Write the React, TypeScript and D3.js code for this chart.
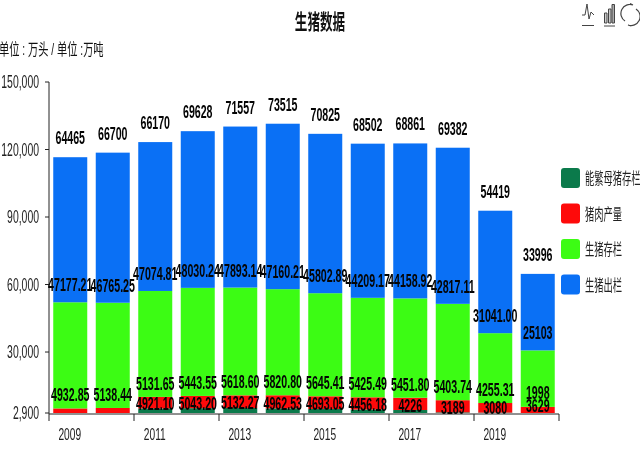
import React from "react";
import * as d3 from "d3";

const years = ["2009","2010","2011","2012","2013","2014","2015","2016","2017","2018","2019","2020"];
const sow = [null,null,4921.10,5043.20,5132.27,4962.53,4693.05,4456.18,4226,3189,3080,1998];
const pork = [4932.85,5138.44,5131.65,5443.55,5618.60,5820.80,5645.41,5425.49,5451.80,5403.74,4255.31,3629];
const stock = [47177.21,46765.25,47074.81,48030.24,47893.14,47160.21,45802.89,44209.17,44158.92,42817.11,31041.00,25103];
const sold = [64465,66700,66170,69628,71557,73515,70825,68502,68861,69382,54419,33996];
const sowText = ["","","4921.10","5043.20","5132.27","4962.53","4693.05","4456.18","4226","3189","3080","1998"];
const porkText = ["4932.85","5138.44","5131.65","5443.55","5618.60","5820.80","5645.41","5425.49","5451.80","5403.74","4255.31","3629"];
const stockText = ["47177.21","46765.25","47074.81","48030.24","47893.14","47160.21","45802.89","44209.17","44158.92","42817.11","31041.00","25103"];
const yTicks = [2900,30000,60000,90000,120000,150000];
const seriesNames = ["能繁母猪存栏","猪肉产量","生猪存栏","生猪出栏"];
const seriesColors = ["#0b7a4b","#fe0a0a","#3cfc14","#0a70f5"];

const font = "'Liberation Sans', Arial, sans-serif";
const W = 640, H = 449;

const T = ({x,y,s,size,sx=0.62,bold=false,anchor="middle",fill="#111"}:any) => (
  <text transform={`translate(${x},${y}) scale(${sx},1)`} fontFamily={`${font}, 'Noto Sans CJK SC'`} fontSize={size}
    fontWeight={bold?700:400} textAnchor={anchor} fill={fill}>{s}</text>
);

export default function App(){
  const step = 510/12;
  const y = d3.scaleLinear().domain([2900,150000]).range([413,82]);
  const rows = years.map((yr,i)=>({year:yr,sow:sow[i]??0,pork:pork[i],stock:stock[i],sold:sold[i]}));
  const stacked = d3.stack<any>().keys(["sow","pork","stock","sold"])(rows);
  const cx = (i:number)=>49+step*(i+0.5);
  const barW = 34;
  const last = years.length-1;
  const labelSets = [
    {texts:sowText,dy:1.5,k:0},
    {texts:porkText,dy:-7,k:1},
    {texts:stockText,dy:-11,k:2},
    {texts:sold.map(String),dy:-13,k:3},
  ];
  // in the final year the two low labels sit stacked above the short red segment
  const labelY = (k:number,i:number,dy:number)=>{
    if(i===last && k===0) return y(stacked[1][i][1])-8;
    if(i===last && k===1) return y(stacked[1][i][1])+5;
    return y(stacked[k][i][1])+dy;
  };
  return (
    <svg width={W} height={H} style={{position:"absolute",left:0,top:0,background:"#fff",filter:"blur(0.35px)"}}>
      <T x={320} y={29} s="生猪数据" size={21} sx={0.6} bold/>
      <T x={-1} y={55} s="单位 : 万头 / 单位 :万吨" size={16} sx={0.64} anchor="start"/>
      {stacked.map((ser,si)=>(
        <g key={si} fill={seriesColors[si]}>
          {ser.map((d,i)=>{
            const y0=y(Math.max(d[0],2900)), y1=y(Math.max(d[1],2900));
            return <rect key={i} x={cx(i)-barW/2} y={y1} width={barW} height={Math.max(0,y0-y1)}/>;
          })}
        </g>
      ))}
      <line x1={49} x2={49} y1={82} y2={414} stroke="#222" strokeWidth={1}/>
      <line x1={49} x2={559} y1={414} y2={414} stroke="#222" strokeWidth={1}/>
      {yTicks.map(t=>(
        <g key={t}>
          <line x1={45} x2={49} y1={y(t)} y2={y(t)} stroke="#222"/>
          <T x={39} y={y(t)+6} s={d3.format(",")(t)} size={18} sx={0.58} anchor="end" fill="#222"/>
        </g>
      ))}
      {years.map((yr,i)=> i%2===0 ? (
        <g key={yr}>
          <line x1={49+step*i} x2={49+step*i} y1={414} y2={421} stroke="#222"/>
          <T x={cx(i)-0.5} y={440} s={yr} size={17} sx={0.6} fill="#222"/>
        </g>
      ):null)}
      <line x1={559} x2={559} y1={414} y2={421} stroke="#222"/>
      {labelSets.map(ls=>ls.texts.map((s,i)=> s ? (
        <T key={ls.k+"-"+i} x={cx(i)} y={labelY(ls.k,i,ls.dy)} s={s} size={19} sx={0.56} bold fill="#050505"/>
      ):null))}
      {seriesNames.map((n,i)=>(
        <g key={n}>
          <rect x={561} y={168+i*35.5} width={19} height={20} rx={3} fill={seriesColors[i]}/>
          <T x={585} y={184+i*35.5} s={n} size={16} sx={0.58} anchor="start" fill="#222"/>
        </g>
      ))}
      <g fill="none" stroke="#444" strokeWidth={1}>
        <path d="M582 15 L585 15 L587 4 L589 19 L591 12 L594 15 M582 25.5 L594 25.5"/>
        <path d="M604 26 L615 26" />
        <path d="M604.5 23 V13 H607 V23 Z M608.5 23 V9 H611 V23 Z" fill="#ccc"/>
        <path d="M612 4.5 h2.5 v18.5 h-2.5 Z" fill="#aaa"/>
        <path d="M625 21 A9 9 0 0 1 633 5 M633 5 l-3 -1.5 M636 9 A9 9 0 0 1 628 25 M628 25 l3 1" strokeWidth={1.2}/>
      </g>
    </svg>
  );
}
